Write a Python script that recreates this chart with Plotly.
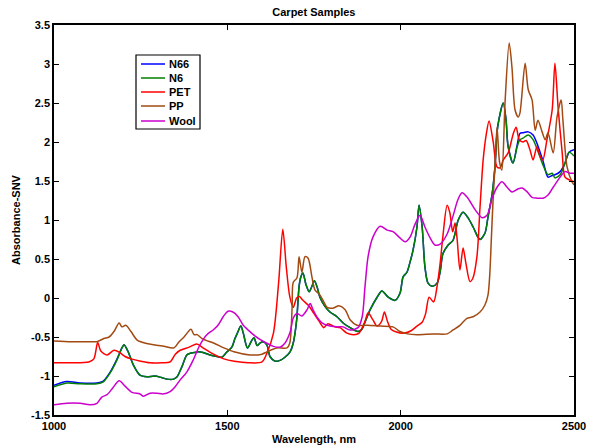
import plotly.graph_objects as go

# ---------------- data ----------------
nylon_nm = [1000, 1037, 1075, 1124, 1141, 1162, 1181, 1196, 1202, 1214, 1229, 1248, 1268, 1291,
            1310, 1326, 1345, 1355, 1369, 1383, 1392, 1405, 1416, 1430, 1450, 1470, 1484, 1499,
            1513, 1522, 1529, 1539, 1546, 1558, 1571, 1577, 1586, 1594, 1603, 1614, 1623, 1638,
            1652, 1666, 1681, 1690, 1700, 1707, 1712, 1718, 1727, 1736, 1744, 1751, 1759, 1767,
            1782, 1796, 1816, 1834, 1854, 1877, 1888, 1897, 1912, 1932, 1946, 1964, 1984, 1998,
            2007, 2018, 2027, 2036, 2047, 2053, 2062, 2070, 2079, 2091, 2105, 2114, 2122, 2137,
            2151, 2166, 2180, 2194, 2209, 2223, 2229, 2243, 2252, 2264, 2272, 2280, 2296, 2304,
            2310, 2324, 2336, 2344, 2353, 2368, 2382, 2396, 2411, 2425, 2437, 2445, 2460, 2474,
            2486, 2500]
n6_abs = [-1.14, -1.09, -1.10, -1.10, -1.08, -0.96, -0.80, -0.64, -0.60, -0.69, -0.86, -0.99, -1.01, -1.00,
          -1.02, -1.04, -1.04, -1.01, -0.88, -0.73, -0.71, -0.70, -0.69, -0.70, -0.73, -0.75, -0.76, -0.69,
          -0.63, -0.52, -0.45, -0.36, -0.45, -0.64, -0.54, -0.51, -0.61, -0.58, -0.56, -0.60, -0.75, -0.81,
          -0.80, -0.76, -0.69, -0.58, -0.28, 0.15, 0.27, 0.32, 0.17, 0.08, 0.15, 0.22, 0.14, 0.01,
          -0.11, -0.18, -0.24, -0.32, -0.38, -0.43, -0.40, -0.31, -0.15, 0.01, 0.09, 0.01, -0.03, 0.06,
          0.27, 0.33, 0.46, 0.62, 0.91, 1.19, 0.91, 0.40, 0.19, 0.15, 0.19, 0.34, 0.57, 0.68,
          0.74, 1.00, 1.10, 1.03, 0.91, 0.78, 0.75, 0.83, 1.04, 1.34, 1.68, 2.20, 2.50, 2.28,
          1.94, 1.73, 1.94, 2.03, 2.05, 2.09, 2.03, 1.88, 1.70, 1.58, 1.60, 1.54, 1.58, 1.73,
          1.87, 1.82]
n66_abs = [-1.12, -1.07, -1.09, -1.09, -1.07, -0.95, -0.79, -0.64, -0.60, -0.69, -0.86, -0.99, -1.01, -1.00,
           -1.02, -1.04, -1.04, -1.01, -0.88, -0.73, -0.71, -0.70, -0.69, -0.70, -0.73, -0.75, -0.76, -0.69,
           -0.63, -0.52, -0.45, -0.36, -0.45, -0.64, -0.54, -0.51, -0.61, -0.58, -0.56, -0.60, -0.75, -0.81,
           -0.80, -0.76, -0.69, -0.58, -0.28, 0.15, 0.27, 0.32, 0.17, 0.08, 0.15, 0.22, 0.14, 0.01,
           -0.11, -0.18, -0.24, -0.32, -0.38, -0.43, -0.40, -0.31, -0.15, 0.01, 0.09, 0.01, -0.03, 0.06,
           0.27, 0.33, 0.46, 0.62, 0.91, 1.19, 0.91, 0.40, 0.19, 0.15, 0.19, 0.34, 0.57, 0.68,
           0.74, 1.00, 1.10, 1.03, 0.91, 0.78, 0.75, 0.83, 1.04, 1.34, 1.68, 2.20, 2.50, 2.28,
           1.94, 1.73, 1.96, 2.11, 2.12, 2.13, 2.09, 1.95, 1.75, 1.55, 1.57, 1.58, 1.62, 1.73,
           1.87, 1.90]

pet_nm = [1000, 1050, 1100, 1115, 1126, 1135, 1153, 1173, 1190, 1205, 1222, 1250, 1277, 1310,
          1335, 1350, 1364, 1390, 1412, 1430, 1460, 1490, 1520, 1560, 1600, 1614, 1633, 1648,
          1660, 1670, 1680, 1690, 1700, 1708, 1718, 1735, 1750, 1765, 1778, 1790, 1810, 1825,
          1845, 1865, 1880, 1897, 1906, 1920, 1932, 1945, 1953, 1962, 1972, 1990, 2010, 2030,
          2047, 2062, 2072, 2082, 2095, 2105, 2114, 2122, 2134, 2142, 2150, 2157, 2163, 2171,
          2180, 2188, 2200, 2208, 2220, 2229, 2238, 2247, 2255, 2267, 2278, 2287, 2296, 2310,
          2325, 2333, 2342, 2353, 2362, 2373, 2382, 2393, 2402, 2410, 2422, 2437, 2445, 2454,
          2466, 2474, 2489, 2500]
pet_abs = [-0.83, -0.83, -0.82, -0.78, -0.57, -0.68, -0.73, -0.67, -0.70, -0.75, -0.78, -0.81, -0.83, -0.83,
           -0.82, -0.72, -0.67, -0.63, -0.59, -0.64, -0.72, -0.78, -0.81, -0.83, -0.82, -0.71, -0.45, 0.20,
           0.88, 0.40, 0.02, -0.12, 0.00, 0.02, -0.03, -0.10, -0.20, -0.30, -0.38, -0.33, -0.37, -0.38,
           -0.45, -0.47, -0.45, -0.30, -0.19, -0.28, -0.36, -0.30, -0.18, -0.30, -0.40, -0.44, -0.45, -0.42,
           -0.36, -0.31, -0.20, 0.01, -0.05, 0.15, 0.45, 0.80, 1.19, 1.09, 0.85, 0.96, 0.75, 0.36,
           0.64, 0.45, 0.21, 0.25, 0.53, 1.17, 1.77, 2.10, 2.27, 2.00, 1.68, 1.67, 1.77, 1.86,
           2.11, 2.19, 2.03, 2.00, 2.02, 1.90, 1.77, 1.94, 1.82, 1.77, 2.03, 2.41, 3.01, 2.45,
           1.86, 1.55, 1.51, 1.49]

pp_nm = [1000, 1050, 1100, 1124, 1144, 1159, 1173, 1188, 1196, 1207, 1222, 1240, 1264, 1288,
         1317, 1346, 1361, 1375, 1395, 1404, 1413, 1427, 1462, 1490, 1519, 1565, 1600, 1614,
         1643, 1672, 1680, 1687, 1690, 1701, 1707, 1715, 1724, 1733, 1744, 1753, 1767, 1776,
         1788, 1805, 1822, 1840, 1854, 1874, 1903, 1941, 1978, 1998, 2020, 2047, 2094, 2134,
         2151, 2171, 2191, 2209, 2229, 2243, 2252, 2257, 2262, 2267, 2272, 2278, 2285, 2292,
         2301, 2313, 2321, 2330, 2339, 2344, 2359, 2368, 2379, 2388, 2396, 2408, 2417, 2425,
         2440, 2451, 2463, 2468, 2480, 2494, 2500]
pp_abs = [-0.55, -0.56, -0.56, -0.56, -0.52, -0.50, -0.43, -0.32, -0.37, -0.35, -0.43, -0.54, -0.58, -0.60,
          -0.62, -0.64, -0.56, -0.50, -0.40, -0.47, -0.47, -0.52, -0.58, -0.64, -0.69, -0.73, -0.72, -0.69,
          -0.64, -0.64, -0.58, -0.11, 0.20, 0.26, 0.53, 0.33, 0.53, 0.51, 0.27, 0.10, 0.04, -0.03,
          -0.12, -0.13, -0.10, -0.15, -0.28, -0.35, -0.35, -0.36, -0.37, -0.43, -0.46, -0.47, -0.46, -0.46,
          -0.41, -0.35, -0.26, -0.24, -0.18, -0.09, 0.04, 0.30, 0.80, 1.30, 1.68, 2.19, 1.75, 1.64,
          2.50, 3.27, 2.96, 2.41, 2.32, 2.37, 3.01, 2.67, 2.54, 2.15, 2.28, 2.13, 2.03, 2.12,
          1.86, 2.32, 2.54, 2.28, 1.68, 1.49, 1.45]

wool_nm = [1000, 1037, 1075, 1104, 1124, 1138, 1153, 1170, 1188, 1205, 1225, 1248, 1258, 1277,
           1297, 1314, 1335, 1349, 1364, 1383, 1401, 1421, 1441, 1459, 1473, 1488, 1502, 1516,
           1531, 1546, 1560, 1575, 1594, 1614, 1633, 1652, 1666, 1681, 1690, 1701, 1715, 1730,
           1739, 1747, 1758, 1773, 1788, 1816, 1834, 1854, 1877, 1889, 1897, 1906, 1920, 1941,
           1961, 1978, 1998, 2013, 2027, 2041, 2056, 2070, 2085, 2099, 2114, 2134, 2151, 2165,
           2177, 2194, 2215, 2235, 2249, 2264, 2278, 2292, 2307, 2321, 2339, 2350, 2365, 2379,
           2393, 2411, 2425, 2440, 2460, 2474, 2489, 2500]
wool_abs = [-1.37, -1.35, -1.35, -1.37, -1.35, -1.27, -1.24, -1.15, -1.06, -1.13, -1.21, -1.23, -1.26, -1.22,
            -1.22, -1.23, -1.20, -1.14, -1.05, -0.95, -0.80, -0.60, -0.47, -0.41, -0.35, -0.24, -0.17, -0.18,
            -0.24, -0.35, -0.41, -0.47, -0.53, -0.58, -0.62, -0.63, -0.58, -0.44, -0.26, -0.20, -0.23, -0.15,
            -0.07, -0.15, -0.24, -0.32, -0.35, -0.37, -0.37, -0.41, -0.38, -0.24, 0.14, 0.53, 0.78, 0.92,
            0.87, 0.85, 0.77, 0.72, 0.78, 0.94, 1.06, 0.91, 0.77, 0.68, 0.69, 0.82, 1.05, 1.26,
            1.35, 1.28, 1.13, 1.03, 1.06, 1.28, 1.42, 1.49, 1.42, 1.36, 1.40, 1.41, 1.36, 1.29,
            1.28, 1.28, 1.32, 1.42, 1.55, 1.62, 1.60, 1.60]

series_names = ["N66", "N6", "PET", "PP", "Wool"]
series_colors = ["#0000ff", "#008000", "#ff0000", "#a24a12", "#cc00cc"]
x_ticks = [1000, 1500, 2000, 2500]
y_ticks = [-1.5, -1, -0.5, 0, 0.5, 1, 1.5, 2, 2.5, 3, 3.5]
y_tick_labels = ["-1.5", "-1", "-0.5", "0", "0.5", "1", "1.5", "2", "2.5", "3", "3.5"]

# ---------------- figure ----------------
FONT = "Liberation Sans, Arial, Helvetica, sans-serif"
W, H = 590, 446
ML, MR, MT, MB = 54, 16, 25, 31
PW, PH = W - ML - MR, H - MT - MB

def px_to_paper(px, py):
    return (px - ML) / PW, (H - MB - py) / PH

fig = go.Figure()
data = [(nylon_nm, n66_abs), (nylon_nm, n6_abs), (pet_nm, pet_abs), (pp_nm, pp_abs), (wool_nm, wool_abs)]
for (xs, ys), name, color in zip(data, series_names, series_colors):
    fig.add_trace(go.Scatter(x=xs, y=ys, name=name, mode="lines", showlegend=False,
                             line=dict(color=color, width=1.5, shape="spline", smoothing=0.8)))

axis_common = dict(showgrid=False, zeroline=False, showline=True, linecolor="black", linewidth=1.5,
                   mirror="ticks", ticks="inside", ticklen=5, tickcolor="black", tickwidth=1,
                   automargin=False,
                   tickfont=dict(family=FONT, size=11, color="black", weight="bold"))
fig.update_xaxes(range=[1000, 2500], tickvals=x_ticks, ticktext=[str(v) for v in x_ticks],
                 title=dict(text="Wavelength, nm", font=dict(family=FONT, size=11, color="black", weight="bold"),
                            standoff=4),
                 **axis_common)
fig.update_yaxes(range=[-1.5, 3.5], tickvals=y_ticks, ticktext=y_tick_labels,
                 title=dict(text="Absorbance-SNV", font=dict(family=FONT, size=11, color="black", weight="bold"),
                            standoff=8),
                 **axis_common)

# ---- MATLAB-style legend box drawn in paper coordinates ----
shapes = []
annotations = []
bx0, by0 = px_to_paper(136, 129)
bx1, by1 = px_to_paper(200, 55)
shapes.append(dict(type="rect", xref="paper", yref="paper", x0=bx0, y0=by0, x1=bx1, y1=by1,
                   line=dict(color="black", width=1.2), fillcolor="white", layer="above"))
entry_y = [64, 78, 92, 106, 121]
for name, color, ey in zip(series_names, series_colors, entry_y):
    lx0, ly = px_to_paper(141, ey)
    lx1, _ = px_to_paper(165, ey)
    tx, _ = px_to_paper(168, ey)
    shapes.append(dict(type="line", xref="paper", yref="paper", x0=lx0, x1=lx1, y0=ly, y1=ly,
                       line=dict(color=color, width=1.5), layer="above"))
    annotations.append(dict(xref="paper", yref="paper", x=tx, y=ly, text=name, showarrow=False,
                            xanchor="left", yanchor="middle", borderpad=0,
                            font=dict(family=FONT, size=11, color="black", weight="bold")))

fig.update_layout(
    width=W, height=H,
    margin=dict(l=ML, r=MR, t=MT, b=MB),
    paper_bgcolor="white", plot_bgcolor="white",
    title=dict(text="Carpet Samples", x=0.532, xanchor="center", y=0.973, yanchor="middle",
               font=dict(family=FONT, size=11, color="black", weight="bold")),
    shapes=shapes, annotations=annotations,
    showlegend=False,
)

fig.write_html("out.html")
